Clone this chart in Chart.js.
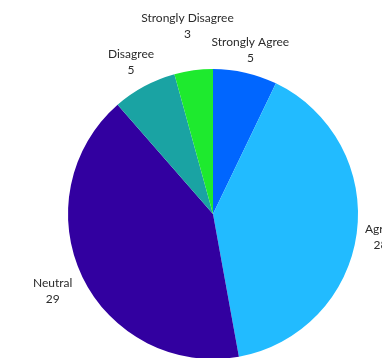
<!DOCTYPE html>
<html>
<head>
<meta charset="utf-8">
<script src="https://cdn.jsdelivr.net/npm/chart.js"></script>
<style>
  html, body { margin: 0; padding: 0; background: #fff; overflow: hidden; }
  #wrap { width: 426px; height: 428px; }
</style>
</head>
<body>
<div id="wrap"><canvas id="surveyChart" width="426" height="428"></canvas></div>
<script>
  const labels = ['Strongly Agree', 'Agree', 'Neutral', 'Disagree', 'Strongly Disagree'];
  const counts = [5, 28, 29, 5, 3];
  const colors = ['#0066ff', '#22bbff', '#3200a0', '#1aa3a3', '#1eea2e'];

  // writes "name / value" outside each slice, along its middle angle
  const outsideLabels = {
    id: 'outsideLabels',
    afterDatasetsDraw(chart, args, opts) {
      const ctx = chart.ctx;
      const meta = chart.getDatasetMeta(0);
      ctx.save();
      ctx.font = opts.font;
      ctx.fillStyle = opts.color;
      ctx.textAlign = 'center';
      ctx.textBaseline = 'middle';
      meta.data.forEach((arc, i) => {
        const mid = (arc.startAngle + arc.endAngle) / 2;
        const r = arc.outerRadius + opts.offset + (opts.extra[i] || 0);
        const x = arc.x + Math.cos(mid) * r;
        const y = arc.y + Math.sin(mid) * r;
        ctx.fillText(chart.data.labels[i], x, y - 8);
        ctx.fillText(chart.data.datasets[0].data[i], x, y + 8);
      });
      ctx.restore();
    }
  };

  new Chart(document.getElementById('surveyChart'), {
    type: 'pie',
    data: {
      labels: labels,
      datasets: [{
        data: counts,
        backgroundColor: colors,
        borderWidth: 0
      }]
    },
    options: {
      responsive: false,
      animation: false,
      layout: { padding: { left: 68, right: 68, top: 69, bottom: 69 } },
      plugins: {
        legend: { display: false },
        tooltip: { enabled: false },
        outsideLabels: {
          font: '12px Lato',
          color: '#2b2b2b',
          offset: 28,
          extra: [-5, -4, 5, 0, 17]
        }
      }
    },
    plugins: [outsideLabels]
  });
</script>
</body>
</html>
